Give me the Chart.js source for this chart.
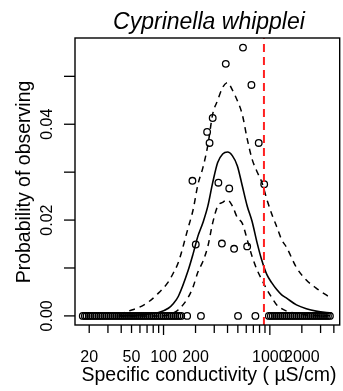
<!DOCTYPE html>
<html>
<head>
<meta charset="utf-8">
<script src="https://cdn.jsdelivr.net/npm/chart.js@4.4.1/dist/chart.umd.min.js"></script>
<style>
  html, body { margin: 0; padding: 0; background: #fff; overflow: hidden; }
  canvas { display: block; }
</style>
</head>
<body>
<canvas id="chart" width="345" height="391"></canvas>
<script>
// observed sites with no fish (probability row at zero)
const zeroX = [17.4, 18.2, 18.9, 19.8, 20.6, 21.5, 22.5, 23.4, 24.5, 25.5, 26.6, 27.8, 29.0, 30.3,
  31.6, 33.0, 34.4, 35.9, 37.5, 39.1, 40.8, 42.6, 44.4, 46.4, 48.4, 50.5, 52.7, 55.0, 57.4, 59.9,
  62.5, 65.2, 68.1, 71.0, 74.1, 77.4, 80.7, 84.2, 87.9, 91.8, 95.8, 99.9, 104.3, 108.8, 113.6,
  118.5, 123.7, 129.1, 134.7, 140.6, 146.7, 166.8, 224.9, 502, 731,
  979, 1022, 1066, 1113, 1161, 1212, 1265, 1320, 1377, 1437, 1500, 1565, 1633, 1705, 1779, 1857,
  1937, 2022, 2110, 2202, 2298, 2398, 2503, 2612, 2725, 2844, 2968, 3097, 3232, 3373, 3520, 3673];

// binned observed probabilities above zero
const obsX = [559, 385, 671, 290, 257, 271, 786, 187, 328, 415, 885, 201, 354, 461, 612];
const obsY = [0.0560, 0.0526, 0.0482, 0.0413, 0.0384, 0.0361, 0.0361, 0.0282, 0.0278, 0.0266,
  0.0275, 0.0149, 0.0151, 0.0140, 0.0145];

// fitted curve and its confidence band
const curveX = [38, 47, 59, 73, 90, 111, 124, 138, 170, 190, 211, 235, 261, 290, 323, 360, 400,
  445, 495, 551, 613, 681, 758, 843, 938, 1044, 1161, 1292, 1437, 1779, 2202, 2725, 3827];
const fitY = [0.00004, 0.0001, 0.0002, 0.0004, 0.0007, 0.0016, 0.0026, 0.0041, 0.0094, 0.0130,
  0.0167, 0.0195, 0.0229, 0.0278, 0.0320, 0.0338, 0.0342, 0.0334, 0.0313, 0.0271, 0.0229,
  0.0197, 0.0153, 0.0115, 0.0086, 0.0069, 0.0055, 0.0044, 0.0037, 0.0023, 0.0015, 0.0010, 0.0006];
const upperY = [0.0003, 0.0010, 0.0018, 0.0030, 0.0048, 0.0071, 0.0090, 0.0112, 0.0183, 0.0222,
  0.0275, 0.0310, 0.0356, 0.0421, 0.0450, 0.0477, 0.0487, 0.0471, 0.0449, 0.0420, 0.0369,
  0.0327, 0.0301, 0.0278, 0.0243, 0.0212, 0.0186, 0.0159, 0.0143, 0.0101, 0.0075, 0.0058, 0.0036];
const lowerY = [0, 0, 0, 0, 0, 0.0002, 0.0006, 0.0013, 0.0038, 0.0061,
  0.0092, 0.0114, 0.0145, 0.0194, 0.0229, 0.0237, 0.0242, 0.0229, 0.0205, 0.0193, 0.0159,
  0.0124, 0.0096, 0.0075, 0.0055, 0.0038, 0.0023, 0.0015, 0.0010, 0.0005, 0.0002, 0.0001, 0];

const cutoff = 880;

const xTicks = [20, 30, 40, 50, 60, 70, 80, 90, 100, 200, 300, 400, 500, 600, 700, 800, 900,
  1000, 2000, 3000, 4000];
const xTickLabels = [20, 50, 100, 200, 1000, 2000];
const yTicks = [0, 0.01, 0.02, 0.03, 0.04, 0.05];
const yTickLabels = ['0.00', '0.02', '0.04'];

const xMin = 14.7, xMax = 4540;
const yMin = -0.0019, yMax = 0.058;

const FONT = '"Liberation Sans", Arial, sans-serif';

function pts(xs, ys) {
  return xs.map((x, i) => ({ x: x, y: ys[i] }));
}

// R-like box, ticks and labels
const rAxes = {
  id: 'rAxes',
  afterDraw(chart) {
    const ctx = chart.ctx;
    const a = chart.chartArea;
    const xs = chart.scales.x;
    const ys = chart.scales.y;
    ctx.save();
    ctx.strokeStyle = '#000';
    ctx.fillStyle = '#000';
    ctx.lineWidth = 1.4;
    ctx.strokeRect(a.left, a.top, a.right - a.left, a.bottom - a.top);

    // x ticks
    ctx.lineWidth = 1.3;
    xTicks.forEach(v => {
      const px = xs.getPixelForValue(v);
      const len = (v === 100 || v === 1000) ? 10 : 8;
      ctx.beginPath();
      ctx.moveTo(px, a.bottom);
      ctx.lineTo(px, a.bottom + len);
      ctx.stroke();
    });
    ctx.font = '16px ' + FONT;
    ctx.textAlign = 'center';
    ctx.textBaseline = 'alphabetic';
    xTickLabels.forEach(v => {
      ctx.fillText(String(v), xs.getPixelForValue(v), 362);
    });

    // y ticks
    yTicks.forEach(v => {
      const py = ys.getPixelForValue(v);
      ctx.beginPath();
      ctx.moveTo(a.left - 11, py);
      ctx.lineTo(a.left, py);
      ctx.stroke();
    });
    yTickLabels.forEach(s => {
      const py = ys.getPixelForValue(parseFloat(s));
      ctx.save();
      ctx.translate(52, py);
      ctx.rotate(-Math.PI / 2);
      ctx.fillText(s, 0, 0);
      ctx.restore();
    });

    // titles
    ctx.font = '19.5px ' + FONT;
    ctx.fillText('Specific conductivity ( \u00b5S/cm)', 209, 381);
    ctx.save();
    ctx.translate(30, 182);
    ctx.rotate(-Math.PI / 2);
    ctx.fillText('Probability of observing', 0, 0);
    ctx.restore();

    ctx.font = 'italic 23px ' + FONT;
    ctx.fillText('Cyprinella whipplei', 209, 29);
    ctx.restore();
  }
};

new Chart(document.getElementById('chart'), {
  type: 'scatter',
  data: {
    datasets: [
      {
        data: [{ x: cutoff, y: yMin }, { x: cutoff, y: yMax }],
        showLine: true, pointRadius: 0,
        borderColor: '#ff2020', borderWidth: 2, borderDash: [8, 5]
      },
      {
        data: pts(curveX, fitY),
        showLine: true, pointRadius: 0, cubicInterpolationMode: 'monotone',
        borderColor: '#000', borderWidth: 1.6
      },
      {
        data: pts(curveX, upperY),
        showLine: true, pointRadius: 0, cubicInterpolationMode: 'monotone',
        borderColor: '#000', borderWidth: 1.5, borderDash: [6, 5]
      },
      {
        data: pts(curveX, lowerY),
        showLine: true, pointRadius: 0, cubicInterpolationMode: 'monotone',
        borderColor: '#000', borderWidth: 1.5, borderDash: [6, 5]
      },
      {
        data: pts(obsX, obsY).concat(zeroX.map(x => ({ x: x, y: 0 }))),
        pointRadius: 3.3, pointBorderWidth: 1.3,
        pointBorderColor: '#000', pointBackgroundColor: 'rgba(0,0,0,0)'
      }
    ]
  },
  options: {
    responsive: false,
    animation: false,
    devicePixelRatio: 1,
    layout: { padding: { left: 75, top: 38, right: 1, bottom: 66 } },
    plugins: { legend: { display: false }, tooltip: { enabled: false } },
    scales: {
      x: { type: 'logarithmic', min: xMin, max: xMax, display: false },
      y: { type: 'linear', min: yMin, max: yMax, display: false }
    }
  },
  plugins: [rAxes]
});
</script>
</body>
</html>
